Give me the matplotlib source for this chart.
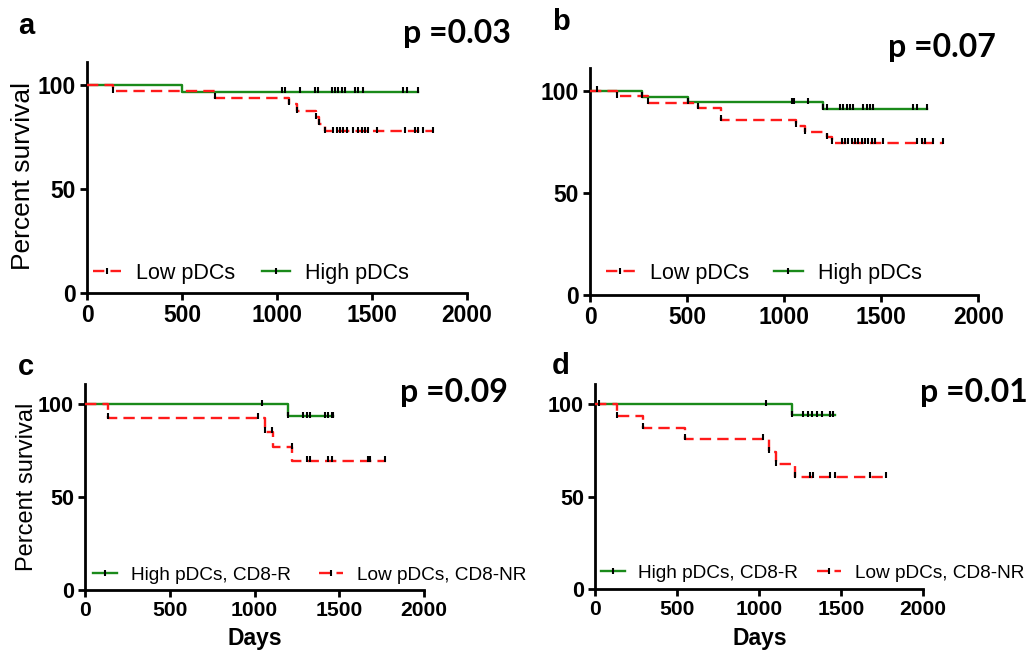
import numpy as np
import matplotlib
matplotlib.use("Agg")
import matplotlib.pyplot as plt
from matplotlib.lines import Line2D

# ---------------- data ----------------
# Panel a
a_high_t = [0, 500, 1740]
a_high_s = [100, 96.8, 96.8]
a_high_cens = [1024, 1042, 1121, 1200, 1217, 1288, 1305, 1323, 1340, 1358, 1410, 1428, 1455, 1665, 1682, 1740]
a_low_t = [0, 139, 674, 1065, 1104, 1205, 1223, 1253, 1819]
a_low_s = [100, 96.9, 93.7, 90.8, 87.2, 84.4, 81.2, 77.6, 77.6]
a_low_cens = [139, 674, 1065, 1104, 1205, 1223, 1253, 1297, 1314, 1332, 1349, 1367, 1402, 1428, 1446, 1463,
              1481, 1525, 1674, 1726, 1744, 1770, 1819]

# Panel b
b_high_t = [0, 265, 502, 1201, 1737]
b_high_s = [100, 97.1, 94.3, 91.0, 91.0]
b_high_cens = [33, 265, 502, 1038, 1050, 1124, 1201, 1218, 1287, 1304, 1321, 1338, 1355, 1407, 1424, 1441, 1459,
               1665, 1682, 1737]
b_low_t = [0, 139, 299, 553, 673, 1060, 1106, 1218, 1244, 1820]
b_low_s = [100, 97.2, 94.2, 91.5, 85.8, 82.7, 79.7, 77.2, 74.5, 74.5]
b_low_cens = [139, 299, 553, 673, 1060, 1107, 1218, 1244, 1296, 1313, 1330, 1347, 1364, 1381, 1399, 1416, 1433,
              1450, 1467, 1510, 1682, 1708, 1725, 1768, 1820]

# Panel c
c_high_t = [0, 1200, 1465]
c_high_s = [100, 93.6, 93.6]
c_high_cens = [1042, 1200, 1288, 1308, 1327, 1416, 1436, 1455, 1465]
c_low_t = [0, 138, 1062, 1111, 1223, 1776]
c_low_s = [100, 92.8, 85.2, 77.1, 69.6, 69.6]
c_low_cens = [138, 1023, 1062, 1101, 1219, 1308, 1327, 1436, 1455, 1671, 1681, 1770]

# Panel d
d_high_t = [0, 1200, 1465]
d_high_s = [100, 94.1, 94.1]
d_high_cens = [26, 1044, 1200, 1271, 1302, 1322, 1353, 1383, 1434, 1455]
d_low_t = [0, 136, 295, 549, 1064, 1105, 1221, 1776]
d_low_s = [100, 93.7, 87.4, 81.3, 74.3, 67.6, 60.8, 60.8]
d_low_cens = [136, 295, 549, 1027, 1064, 1105, 1221, 1312, 1333, 1434, 1465, 1679, 1776]

panel_letters = ["a", "b", "c", "d"]
p_values = ["p =0.03", "p =0.07", "p =0.09", "p =0.01"]
legend_ab = ["Low pDCs", "High pDCs"]
legend_cd = ["High pDCs, CD8-R", "Low pDCs, CD8-NR"]
x_ticks = [0, 500, 1000, 1500, 2000]
y_ticks = [0, 50, 100]

# ---------------- style ----------------
RED = "#ff1a1a"
GREEN = "#1a8a1a"
DASH = (0, (4.8, 2.6))
SANS = ["Liberation Sans", "DejaVu Sans"]
PFONT = ["Lato", "DejaVu Sans"]

W, H = 1029, 650
fig = plt.figure(figsize=(W / 100, H / 100), dpi=100)


def px_axes(x0, x1, ytop, ybot):
    return fig.add_axes([x0 / W, 1 - ybot / H, (x1 - x0) / W, (ybot - ytop) / H])


def step_value(t, s, x):
    idx = np.searchsorted(np.asarray(t), x, side="right") - 1
    idx = np.clip(idx, 0, len(s) - 1)
    return np.asarray(s)[idx]


def draw(ax, t, s, cens, color, ls):
    ax.step(t, s, where="post", color=color, lw=1.7, linestyle=ls, zorder=3)
    cy = step_value(t, s, np.asarray(cens))
    ax.plot(cens, cy + 0.8, linestyle="none", marker="|", ms=4.5, mew=1.5, color="black", zorder=4)


def style(ax, xfs, yfs):
    ax.set_xlim(0, 2000)
    ax.set_ylim(0, 111)
    ax.set_xticks(x_ticks)
    ax.set_yticks(y_ticks)
    for side in ("top", "right"):
        ax.spines[side].set_visible(False)
    for side in ("left", "bottom"):
        ax.spines[side].set_linewidth(2)
    ax.tick_params(direction="out", length=5, width=2, pad=3)
    for lab in ax.get_xticklabels():
        lab.set_fontfamily(SANS)
        lab.set_fontweight("bold")
        lab.set_fontsize(xfs)
    for lab in ax.get_yticklabels():
        lab.set_fontfamily(SANS)
        lab.set_fontweight("bold")
        lab.set_fontsize(yfs)


def handle(color, ls):
    return Line2D([], [], color=color, linestyle=ls, lw=1.7, marker="|", ms=4.5, mew=1.5, mec="black")


axes_px = [(87, 467, 62, 292.7), (590.3, 978.3, 68.3, 294.7), (85, 424, 384, 590.3), (595, 922.7, 384, 589.3)]
axs = [px_axes(*p) for p in axes_px]

data = [
    ((a_low_t, a_low_s, a_low_cens), (a_high_t, a_high_s, a_high_cens)),
    ((b_low_t, b_low_s, b_low_cens), (b_high_t, b_high_s, b_high_cens)),
    ((c_low_t, c_low_s, c_low_cens), (c_high_t, c_high_s, c_high_cens)),
    ((d_low_t, d_low_s, d_low_cens), (d_high_t, d_high_s, d_high_cens)),
]

for i, ax in enumerate(axs):
    low, high = data[i]
    draw(ax, *high, GREEN, "-")
    draw(ax, *low, RED, DASH)
    if i < 2:
        style(ax, 16.5, 16.5)
    else:
        style(ax, 15.2, 15.5)

# legends
leg_specs = [
    (axs[0], [handle(RED, DASH), handle(GREEN, "-")], legend_ab, 15.5, (0.015, 0.085), 1.3, 0.7, 1.25),
    (axs[1], [handle(RED, DASH), handle(GREEN, "-")], legend_ab, 15.5, (0.040, 0.095), 1.35, 0.7, 1.15),
    (axs[2], [handle(GREEN, "-"), handle(RED, DASH)], legend_cd, 13.7, (0.025, 0.074), 1.25, 0.72, 1.5),
    (axs[3], [handle(GREEN, "-"), handle(RED, DASH)], legend_cd, 13.7, (0.018, 0.078), 1.25, 0.72, 1.0),
]
for ax, hs, labs, fs, anchor, hl, htp, cs in leg_specs:
    ax.legend(hs, labs, ncol=2, loc="center left", bbox_to_anchor=anchor, frameon=False,
              prop={"family": SANS, "size": fs}, handlelength=hl, handletextpad=htp,
              columnspacing=cs, borderpad=0, borderaxespad=0, numpoints=1)

# y labels
fig.text(23 / W, 1 - 176 / H, "Percent survival", rotation=90, ha="center", va="center",
         family=SANS, fontsize=19)
fig.text(27.5 / W, 1 - 487 / H, "Percent survival", rotation=90, ha="center", va="center",
         family=SANS, fontsize=17)
# x labels
fig.text(255 / W, 1 - 638 / H, "Days", ha="center", va="center", family=SANS, fontsize=16.5,
         fontweight="bold")
fig.text(760 / W, 1 - 638 / H, "Days", ha="center", va="center", family=SANS, fontsize=16.5,
         fontweight="bold")

# panel letters
letter_pos = [(18, 26), (552, 22), (18, 367), (552, 366)]
for lt, (x, y) in zip(panel_letters, letter_pos):
    fig.text(x / W, 1 - y / H, lt, ha="left", va="center", family=SANS, fontsize=21, fontweight="bold")

# p-values (baseline positions)
p_pos = [(403, 43), (888, 57), (400, 402), (920, 402)]
for pv, (x, y) in zip(p_values, p_pos):
    fig.text(x / W, 1 - y / H, pv, ha="left", va="baseline", family=PFONT, fontsize=23, fontweight="bold")

fig.savefig("out.png", dpi=100)
